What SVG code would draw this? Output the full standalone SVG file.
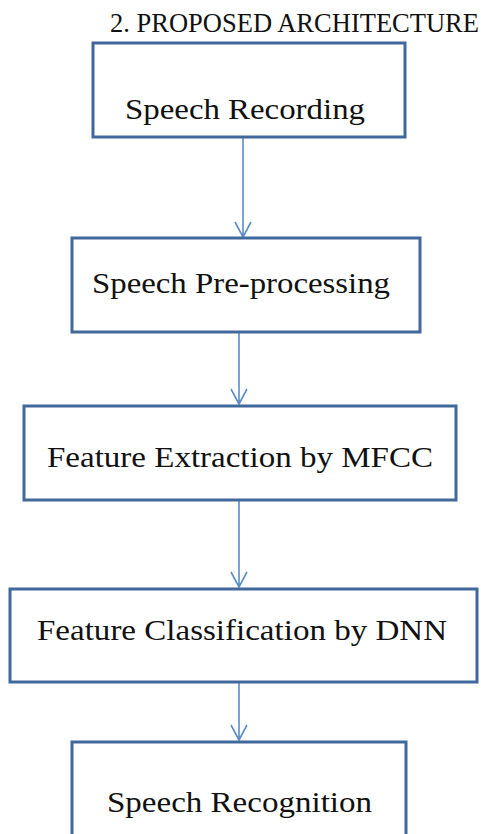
<svg xmlns="http://www.w3.org/2000/svg" width="481" height="834" viewBox="0 0 481 834">
  <style>
    .box { fill: #ffffff; stroke: #41689a; stroke-width: 3; }
    .lbl { font-family: "Liberation Serif", "Times New Roman", serif; font-size: 30px; fill: #111111; }
    .title { font-family: "Liberation Serif", "Times New Roman", serif; font-size: 26.5px; fill: #111111; }
    .conn { stroke: #5b8cc8; stroke-width: 1.6; fill: none; }
  </style>
  <rect x="0" y="0" width="481" height="834" fill="#ffffff"/>
  <text class="title" x="110" y="32" textLength="369" lengthAdjust="spacingAndGlyphs">2. PROPOSED ARCHITECTURE</text>

  <g id="connectors">
    <path class="conn" d="M243 138 V237 M235 222 L243 237 L251 222"/>
    <path class="conn" d="M239 333 V404 M231 389 L239 404 L247 389"/>
    <path class="conn" d="M239 501 V587 M231 572 L239 587 L247 572"/>
    <path class="conn" d="M239 683 V740 M231 725 L239 740 L247 725"/>
  </g>

  <g id="n1">
    <rect class="box" x="93" y="43" width="312" height="94"/>
    <text class="lbl" x="125" y="119" textLength="240" lengthAdjust="spacingAndGlyphs">Speech Recording</text>
  </g>
  <g id="n2">
    <rect class="box" x="72" y="238" width="348" height="94"/>
    <text class="lbl" x="92" y="293" textLength="298" lengthAdjust="spacingAndGlyphs">Speech Pre-processing</text>
  </g>
  <g id="n3">
    <rect class="box" x="24" y="406" width="432" height="94"/>
    <text class="lbl" x="47" y="467" textLength="386" lengthAdjust="spacingAndGlyphs">Feature Extraction by MFCC</text>
  </g>
  <g id="n4">
    <rect class="box" x="10" y="589" width="467" height="93"/>
    <text class="lbl" x="37" y="640" textLength="410" lengthAdjust="spacingAndGlyphs">Feature Classification by DNN</text>
  </g>
  <g id="n5">
    <rect class="box" x="72" y="742" width="334" height="96"/>
    <text class="lbl" x="107" y="812" textLength="265" lengthAdjust="spacingAndGlyphs">Speech Recognition</text>
  </g>
</svg>
